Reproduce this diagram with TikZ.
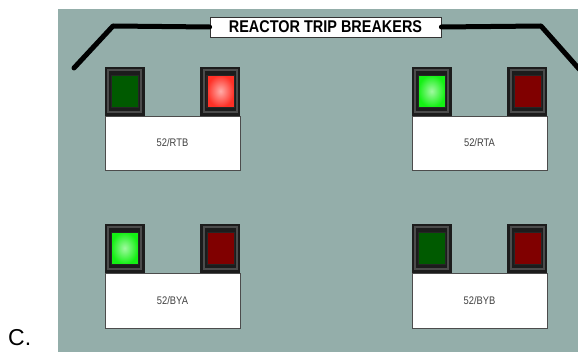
\documentclass[tikz,border=0pt]{standalone}
\usepackage{fontspec}
\setmainfont{Liberation Sans}
\newfontfamily\narrowsans[FakeStretch=0.85]{Liberation Sans}
\usepackage{xcolor}
\usepackage{tikz}
\usetikzlibrary{positioning,calc}

\definecolor{panelgray}{HTML}{94AEAA}
\definecolor{lampbg}{HTML}{1C1C1C}
\definecolor{ringgray}{HTML}{4C4C4C}
\definecolor{offgreen}{HTML}{005A00}
\definecolor{offred}{HTML}{800000}
\definecolor{ongreen}{HTML}{14F014}
\definecolor{onred}{HTML}{FF3026}

\begin{document}
\begin{tikzpicture}[x=1pt, y=-1pt,
  frame/.style ={draw=lampbg, fill=lampbg, double=ringgray, double distance=2.5pt,
                 line width=2.2pt, minimum width=33.1pt, minimum height=42.1pt,
                 inner sep=0pt, outer sep=3.45pt},
  lamp/.style  ={draw=black!85, line width=.6pt, minimum width=27pt,
                 minimum height=32pt, inner sep=0pt},
  dkgreen/.style={lamp, fill=offgreen},
  dkred/.style  ={lamp, fill=offred},
  ltgreen/.style={lamp, inner color=white!60!ongreen, outer color=ongreen},
  ltred/.style  ={lamp, inner color=white!60!onred, outer color=onred},
  brk/.style   ={draw=black!70, fill=white, line width=.9pt, minimum width=135pt,
                 minimum height=54pt, inner sep=0pt,
                 font=\narrowsans\fontsize{11}{12}\selectfont, text=black!75},
  bus/.style   ={line width=5pt, line cap=round, line join=round}]

  \useasboundingbox (0,0) rectangle (578,352);
  \fill[panelgray] (58,9) rectangle (578,352);

  % --- title and bus line ---------------------------------------------
  \node[draw=black!80, fill=white, line width=.8pt, minimum width=231pt,
        minimum height=20pt, inner sep=0pt,
        font=\narrowsans\bfseries\fontsize{17}{18}\selectfont] (title)
    at (325.5,27) {REACTOR TRIP BREAKERS};
  \coordinate (busl) at (74,68);
  \coordinate (buslk) at (113,26);
  \coordinate (busrk) at (541,26);
  \coordinate (busr) at (580,70);
  \draw[bus] (busl) -- (buslk) -- (title.west);
  \draw[bus] (title.east) -- (busrk) -- (busr);

  % --- breaker boxes -------------------------------------------------
  \node[brk] (rtb) at (172.5,143) {52/RTB};
  \node[brk] (rta) at (479.5,143) {52/RTA};
  \node[brk, minimum height=55pt] (bya) at (172.5,300.5) {52/BYA};
  \node[brk, minimum height=55pt] (byb) at (479.5,300.5) {52/BYB};

  % --- lamps: green left, red right ----------------------------------
  \node[frame, anchor=south west] (rtbg) at (rtb.north west) {};
  \node[frame, anchor=south east] (rtbr) at (rtb.north east) {};
  \node[dkgreen] (rtbgl) at (rtbg) {};
  \node[ltred]   (rtbrl) at (rtbr) {};

  \node[frame, anchor=south west] (rtag) at (rta.north west) {};
  \node[frame, anchor=south east] (rtar) at (rta.north east) {};
  \node[ltgreen] (rtagl) at (rtag) {};
  \node[dkred]   (rtarl) at (rtar) {};

  \node[frame, anchor=south west] (byag) at (bya.north west) {};
  \node[frame, anchor=south east] (byar) at (bya.north east) {};
  \node[ltgreen] (byagl) at (byag) {};
  \node[dkred]   (byarl) at (byar) {};

  \node[frame, anchor=south west] (bybg) at (byb.north west) {};
  \node[frame, anchor=south east] (bybr) at (byb.north east) {};
  \node[dkgreen] (bybgl) at (bybg) {};
  \node[dkred]   (bybrl) at (bybr) {};

  % item letter
  \node[anchor=base west, inner sep=0pt, font=\fontsize{23}{24}\selectfont]
    (item) at (8,345) {C.};
\end{tikzpicture}
\end{document}
